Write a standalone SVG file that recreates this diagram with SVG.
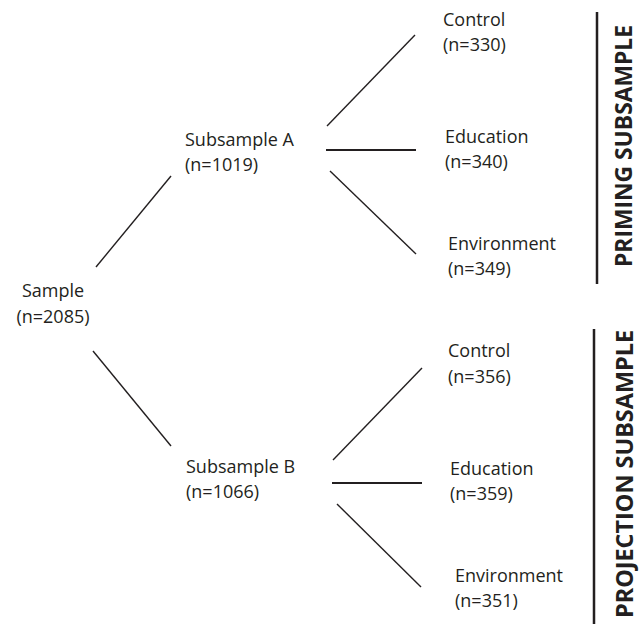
<svg xmlns="http://www.w3.org/2000/svg" width="643" height="624" viewBox="0 0 643 624">
<style>
text{font-family:"Open Sans","Liberation Sans",sans-serif;font-size:18px;fill:#231f20}
.side{font-weight:bold;font-size:24px}
.c line{stroke:#231f20;stroke-width:1.4}
.c .h{stroke-width:2}
.c .bar{stroke-width:2.5}
</style>
<rect width="643" height="624" fill="#ffffff"/>
<g class="c" id="connectors">
<line x1="96" y1="267" x2="171" y2="176"/>
<line x1="93" y1="351" x2="171" y2="446"/>
<line x1="327" y1="126" x2="415" y2="35"/>
<line class="h" x1="326" y1="150" x2="416" y2="150"/>
<line x1="330" y1="171" x2="416" y2="254"/>
<line x1="333" y1="460" x2="422" y2="368"/>
<line class="h" x1="332" y1="483" x2="422" y2="483"/>
<line x1="337" y1="504" x2="421" y2="587"/>
<line class="bar" x1="597" y1="12" x2="597" y2="284"/>
<line class="bar" x1="594" y1="329" x2="594" y2="624"/>
</g>
<g id="sample"><text x="53" y="297" text-anchor="middle">Sample</text><text x="53" y="323" text-anchor="middle">(n=2085)</text></g>
<g id="subA"><text x="185" y="146">Subsample A</text><text x="185" y="171">(n=1019)</text></g>
<g id="subB"><text x="186" y="473">Subsample B</text><text x="186" y="498">(n=1066)</text></g>
<g id="a-control"><text x="443" y="26">Control</text><text x="443" y="51">(n=330)</text></g>
<g id="a-education"><text x="445" y="143">Education</text><text x="445" y="168">(n=340)</text></g>
<g id="a-environment"><text x="448" y="250">Environment</text><text x="448" y="275">(n=349)</text></g>
<g id="b-control"><text x="448" y="357">Control</text><text x="448" y="383">(n=356)</text></g>
<g id="b-education"><text x="450" y="475">Education</text><text x="450" y="500">(n=359)</text></g>
<g id="b-environment"><text x="455" y="582">Environment</text><text x="455" y="607">(n=351)</text></g>
<g id="priming"><text class="side" transform="translate(632,146) rotate(-90)" text-anchor="middle" textLength="242" lengthAdjust="spacingAndGlyphs">PRIMING SUBSAMPLE</text></g>
<g id="projection"><text class="side" transform="translate(633,474) rotate(-90)" text-anchor="middle" textLength="288" lengthAdjust="spacingAndGlyphs">PROJECTION SUBSAMPLE</text></g>
</svg>
